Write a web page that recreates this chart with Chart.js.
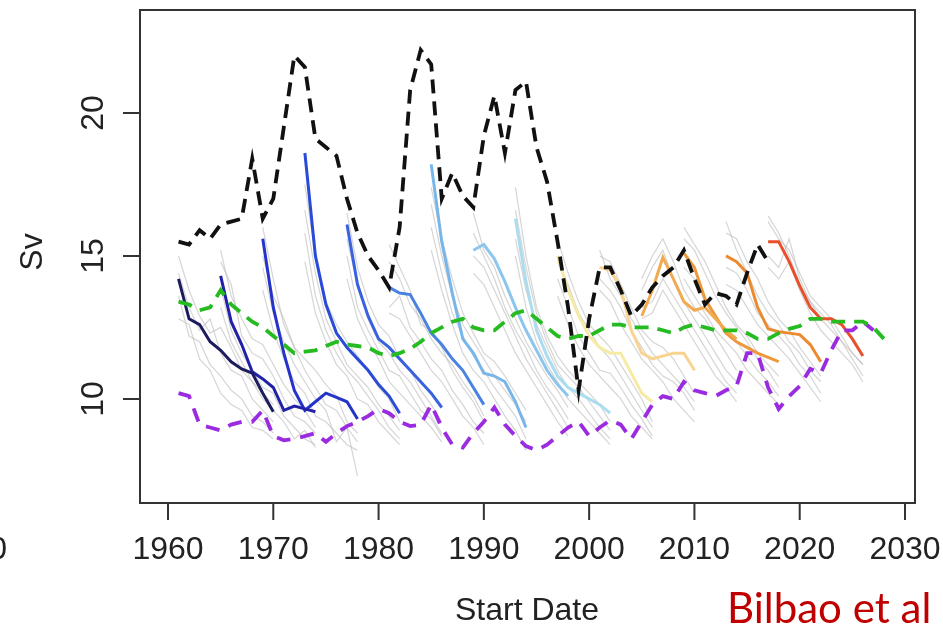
<!DOCTYPE html>
<html>
<head>
<meta charset="utf-8">
<script src="https://cdn.jsdelivr.net/npm/chart.js@4"></script>
<style>html,body{margin:0;padding:0;background:#fff}</style>
</head>
<body>
<canvas id="my-chart" width="943" height="624"></canvas>
<script>
// axis ticks
const xTicks = [1960, 1970, 1980, 1990, 2000, 2010, 2020, 2030]
const yTicks = [10, 15, 20]

// ensemble max (black dashed), yearly from 1961
const maxStart = 1961
const maxSv = [15.5, 15.4, 15.9, 15.6, 16.1, 16.2, 16.3, 18.4, 16.3, 17.0,
  19.5, 22.0, 21.6, 19.1, 18.8, 18.5, 17.0, 15.8, 15.0, 14.5,
  13.9, 16.0, 20.8, 22.2, 21.7, 17.0, 17.9, 17.1, 16.7, 19.2,
  20.6, 18.6, 20.8, 21.1, 18.8, 17.6, 15.5, 13.2, 10.3, 12.8,
  14.6, 14.6, 13.8, 12.9, 13.3, 13.9, 14.3, 14.6, 15.2, 14.2,
  13.3, 13.7, 13.6, 13.3, 14.4, 15.4, 14.8]

// ensemble mean (green dashed), yearly from 1961
const meanStart = 1961
const meanSv = [13.4, 13.3, 13.1, 13.2, 13.8, 13.3, 13.0, 12.7, 12.5, 12.2,
  11.9, 11.6, 11.65, 11.7, 11.85, 12.0, 11.9, 11.85, 11.8, 11.6,
  11.5, 11.6, 11.75, 12.0, 12.3, 12.5, 12.7, 12.8, 12.5, 12.4,
  12.4, 12.7, 13.0, 13.1, 12.8, 12.5, 12.2, 12.1, 12.2, 12.2,
  12.4, 12.6, 12.6, 12.5, 12.5, 12.5, 12.4, 12.3, 12.5, 12.6,
  12.5, 12.4, 12.4, 12.4, 12.3, 12.1, 12.1, 12.3, 12.45, 12.55,
  12.8, 12.8, 12.7, 12.7, 12.7, 12.7, 12.5, 12.1]

// ensemble min (purple dashed), yearly from 1961
const minStart = 1961
const minSv = [10.2, 10.1, 9.1, 9.0, 8.9, 9.1, 9.2, 9.2, 9.6, 8.7,
  8.55, 8.6, 8.7, 8.8, 8.5, 8.8, 9.05, 9.2, 9.4, 9.65,
  9.5, 9.2, 9.05, 9.1, 9.8, 9.0, 8.4, 8.3, 8.8, 9.2,
  9.7, 9.1, 8.7, 8.35, 8.2, 8.4, 8.7, 9.0, 9.2, 8.7,
  9.0, 9.25, 9.1, 8.6, 9.2, 9.8, 10.1, 10.0, 10.6, 10.3,
  10.2, 10.1, 10.3, 10.45, 11.6, 11.6, 10.4, 9.65, 10.1, 10.45,
  11.05, 10.9, 11.7, 12.4, 12.4, 12.7, 12.4]

// forecasts, one per start date, 10 years each
const fcStarts = [1961, 1965, 1969, 1973, 1977, 1981, 1985, 1989, 1993, 1997, 2001, 2005, 2009, 2013, 2017]
const fcColors = ['#1c1c5e', '#2222a8', '#2433c8', '#2a4ad8', '#3a62e0', '#4a82e2', '#78b6ea', '#8cc6ee',
  '#abdcf0', '#f7eaa4', '#f8d490', '#f2aa52', '#ee983c', '#ec8a30', '#e8502c']
const fcSv = [
  [14.2, 12.8, 12.6, 12.0, 11.7, 11.3, 11.05, 10.9, 10.2, 9.55],
  [14.3, 12.7, 11.9, 10.95, 10.7, 10.4, 9.6, 9.75, 9.65, 9.55],
  [15.6, 13.2, 11.6, 10.3, 9.6, 9.9, 10.2, 10.05, 9.9, 9.3],
  [18.6, 15.0, 13.3, 12.3, 11.8, 11.4, 11.0, 10.5, 10.1, 9.5],
  [16.1, 14.0, 12.9, 12.1, 11.8, 11.4, 11.0, 10.6, 10.2, 9.7],
  [13.9, 13.7, 13.65, 13.0, 12.3, 11.9, 11.4, 11.0, 10.4, 9.8],
  [18.2, 15.5, 13.7, 12.1, 11.6, 10.9, 10.8, 10.6, 9.9, 9.0],
  [15.2, 15.4, 14.9, 14.1, 13.2, 12.4, 11.7, 11.0, 10.5, 10.1],
  [16.3, 14.1, 12.4, 11.5, 10.8, 10.4, 10.2, 10.0, 9.8, 9.5],
  [15.0, 13.8, 12.9, 12.2, 11.8, 11.6, 11.6, 10.9, 10.2, 9.9],
  [14.6, 14.5, 13.9, 12.4, 11.6, 11.4, 11.5, 11.6, 11.6, 11.0],
  [12.9, 13.8, 14.95, 14.2, 13.4, 13.1, 13.2, 12.8, 12.4, 12.1],
  [15.1, 14.6, 13.5, 12.9, 12.3, 12.0, 11.8, 11.6, 11.45, 11.3],
  [15.0, 14.8, 14.4, 13.2, 12.45, 12.35, 12.3, 12.25, 11.9, 11.3],
  [15.5, 15.5, 14.8, 13.95, 13.2, 12.8, 12.8, 12.6, 12.1, 11.5]
]

// individual members (grey), start year of each run
const memberStarts = [
  1961, 1961, 1961, 1961, 1965, 1965, 1965, 1965, 1969, 1969, 1969, 1969,
  1973, 1973, 1973, 1973, 1977, 1977, 1977, 1977, 1981, 1981, 1981, 1981,
  1985, 1985, 1985, 1985, 1989, 1989, 1989, 1989, 1993, 1993, 1993, 1993,
  1997, 1997, 1997, 1997, 2001, 2001, 2001, 2001, 2005, 2005, 2005, 2005,
  2009, 2009, 2009, 2009, 2013, 2013, 2013, 2013, 2017, 2017, 2017, 2017]
const memberSv = [
  [15.0, 13.8, 12.9, 12.3, 12.5, 11.8, 11.0, 10.6, 10.2, 9.8],
  [13.6, 12.2, 12.0, 11.2, 10.8, 10.3, 10.0, 9.4, 9.2, 8.8],
  [14.4, 13.2, 12.4, 12.8, 11.6, 11.0, 10.8, 10.0, 9.6, 9.2],
  [12.8, 12.6, 11.4, 11.0, 10.2, 9.8, 9.6, 9.0, 8.9, 8.6],
  [15.2, 13.6, 12.8, 12.1, 11.9, 11.2, 10.5, 10.0, 9.6, 9.0],
  [13.9, 12.4, 11.6, 11.0, 10.4, 10.2, 9.4, 9.0, 8.6, 8.4],
  [14.8, 14.0, 12.2, 11.6, 11.4, 10.8, 10.0, 9.4, 9.2, 8.8],
  [13.2, 12.0, 11.3, 10.6, 10.0, 9.6, 9.2, 8.6, 8.9, 8.3],
  [16.0, 14.2, 12.6, 11.8, 11.4, 11.0, 10.5, 10.1, 9.2, 8.8],
  [14.6, 13.0, 12.0, 11.2, 10.6, 10.0, 9.6, 8.5, 9.0, 7.3],
  [15.0, 13.6, 12.8, 11.8, 11.0, 10.4, 9.8, 9.6, 9.0, 8.5],
  [13.8, 12.4, 11.4, 10.6, 10.2, 9.4, 9.2, 8.8, 8.4, 8.2],
  [17.5, 15.0, 13.4, 12.6, 12.0, 11.5, 11.0, 10.4, 10.0, 9.2],
  [15.8, 13.6, 12.4, 11.6, 11.0, 10.6, 10.1, 9.6, 9.0, 8.6],
  [16.6, 14.4, 12.8, 12.0, 11.2, 10.8, 10.4, 9.8, 9.4, 8.9],
  [14.8, 13.0, 12.0, 11.2, 10.8, 10.0, 9.8, 9.2, 8.8, 8.4],
  [16.5, 14.6, 13.4, 12.6, 12.2, 11.4, 11.0, 10.3, 9.8, 9.2],
  [15.0, 13.2, 12.4, 11.7, 11.0, 10.8, 10.2, 9.6, 9.3, 8.7],
  [15.6, 14.0, 12.8, 12.0, 11.6, 11.0, 10.6, 10.0, 9.4, 8.8],
  [14.2, 12.8, 12.0, 11.4, 10.6, 10.2, 9.8, 9.4, 9.0, 8.5],
  [14.8, 14.2, 13.3, 12.8, 12.1, 11.6, 11.2, 10.6, 10.1, 9.4],
  [13.2, 13.6, 12.5, 12.0, 11.4, 11.0, 10.3, 9.8, 9.2, 8.8],
  [15.4, 14.6, 13.8, 12.6, 12.4, 11.8, 11.0, 10.4, 9.9, 9.2],
  [13.0, 12.8, 12.2, 11.6, 11.0, 10.6, 10.0, 9.4, 9.0, 8.4],
  [17.4, 15.6, 14.2, 13.0, 12.3, 11.6, 11.3, 10.8, 10.2, 9.6],
  [16.0, 14.4, 13.0, 12.2, 11.5, 11.0, 10.4, 9.9, 9.4, 8.6],
  [16.8, 15.0, 13.6, 12.6, 12.0, 11.4, 10.8, 10.3, 9.8, 9.2],
  [15.2, 13.8, 12.6, 11.6, 11.0, 10.6, 10.0, 9.4, 8.9, 8.2],
  [16.5, 15.2, 14.6, 13.6, 12.8, 12.0, 11.4, 10.8, 10.3, 9.7],
  [15.0, 14.6, 13.8, 13.0, 12.2, 11.4, 10.8, 10.2, 9.6, 9.0],
  [15.8, 15.0, 14.2, 13.2, 12.4, 11.8, 11.0, 10.4, 9.9, 9.3],
  [14.4, 14.0, 13.2, 12.4, 11.6, 11.0, 10.4, 9.8, 9.2, 8.7],
  [17.4, 15.0, 13.2, 12.2, 11.5, 11.0, 10.6, 10.2, 9.8, 9.2],
  [15.6, 13.8, 12.6, 11.8, 11.0, 10.4, 10.0, 9.5, 9.0, 8.6],
  [16.6, 14.6, 13.0, 12.0, 11.2, 10.8, 10.4, 9.9, 9.4, 8.9],
  [15.0, 13.2, 12.0, 11.2, 10.6, 10.0, 9.6, 9.2, 8.8, 8.4],
  [15.6, 14.4, 13.4, 12.6, 12.2, 11.8, 11.2, 10.6, 10.0, 9.2],
  [14.2, 13.2, 12.2, 11.6, 11.0, 10.9, 10.4, 9.8, 9.3, 8.7],
  [14.8, 14.0, 13.0, 12.4, 11.8, 11.4, 10.8, 10.2, 9.6, 9.0],
  [13.6, 12.6, 11.8, 11.2, 10.8, 10.4, 10.0, 9.4, 9.0, 8.6],
  [15.0, 14.8, 14.0, 13.2, 12.4, 12.0, 11.8, 11.4, 10.8, 10.2],
  [14.2, 13.8, 13.2, 12.4, 11.8, 11.2, 10.8, 10.6, 10.2, 9.6],
  [15.2, 14.2, 13.6, 12.8, 12.2, 11.6, 11.2, 10.8, 10.4, 9.9],
  [13.8, 13.4, 12.6, 12.0, 11.4, 11.0, 10.6, 10.0, 9.6, 9.2],
  [14.2, 15.0, 15.6, 14.8, 13.8, 13.2, 12.8, 12.2, 11.6, 11.0],
  [13.2, 13.4, 14.2, 13.6, 13.0, 12.4, 11.8, 11.2, 10.6, 10.2],
  [13.8, 14.6, 15.2, 14.2, 13.4, 12.8, 12.2, 11.6, 11.0, 10.6],
  [12.8, 13.0, 13.8, 13.2, 12.6, 12.0, 11.4, 10.8, 10.4, 9.9],
  [15.6, 15.2, 14.4, 13.6, 13.0, 12.5, 12.0, 11.4, 11.0, 10.4],
  [14.6, 14.2, 13.4, 12.8, 12.4, 12.0, 11.5, 11.0, 10.6, 10.1],
  [16.0, 15.4, 14.8, 14.0, 13.2, 12.6, 12.2, 11.6, 11.2, 10.8],
  [14.2, 13.6, 13.0, 12.4, 12.0, 11.6, 11.0, 10.6, 10.2, 9.8],
  [15.8, 15.6, 14.8, 14.2, 13.4, 12.8, 12.4, 11.8, 11.3, 10.8],
  [14.6, 14.4, 13.8, 13.0, 12.6, 12.2, 11.8, 11.2, 10.8, 10.2],
  [16.2, 15.2, 14.4, 13.6, 13.0, 12.6, 12.0, 11.6, 11.0, 10.6],
  [14.0, 13.8, 13.2, 12.6, 12.2, 11.8, 11.4, 10.9, 10.4, 9.9],
  [16.2, 15.6, 15.2, 14.4, 13.6, 13.2, 12.8, 12.2, 11.6, 11.2],
  [15.0, 14.6, 15.6, 14.2, 13.4, 12.8, 12.4, 12.0, 11.6, 11.2],
  [16.4, 15.8, 15.0, 14.0, 13.4, 13.0, 12.6, 12.0, 11.4, 10.8],
  [14.6, 14.2, 14.8, 13.8, 13.0, 12.4, 12.0, 11.6, 11.2, 10.6]
]

function pts(start, vals) {
  return vals.map((v, i) => ({ x: start + i, y: v }))
}

const datasets = []
datasets.push({ data: pts(maxStart, maxSv), borderColor: '#111', borderWidth: 3.8, borderDash: [14, 8] })
datasets.push({ data: pts(meanStart, meanSv), borderColor: '#27bb22', borderWidth: 3.8, borderDash: [14, 9] })
datasets.push({ data: pts(minStart, minSv), borderColor: '#9a2be0', borderWidth: 3.8, borderDash: [14, 10] })
fcStarts.forEach((s, i) => {
  datasets.push({ data: pts(s, fcSv[i]), borderColor: fcColors[i], borderWidth: 3 })
})
memberStarts.forEach((s, i) => {
  datasets.push({ data: pts(s, memberSv[i]), borderColor: 'rgba(185,185,185,0.6)', borderWidth: 1.2 })
})

const frame = {
  id: 'frame',
  afterDraw(c) {
    const ctx = c.ctx, a = c.chartArea, x = c.scales.x, y = c.scales.y
    ctx.save()
    ctx.strokeStyle = '#333'
    ctx.lineWidth = 2
    ctx.strokeRect(a.left, a.top, a.right - a.left, a.bottom - a.top)
    ctx.fillStyle = '#222'
    ctx.font = '32px "Liberation Sans", Arial, sans-serif'
    ctx.textAlign = 'center'
    ctx.textBaseline = 'alphabetic'
    ctx.beginPath()
    xTicks.forEach(t => {
      const px = x.getPixelForValue(t)
      ctx.moveTo(px, a.bottom)
      ctx.lineTo(px, a.bottom + 17)
      ctx.fillText(String(t), px, 559)
    })
    yTicks.forEach(t => {
      const py = y.getPixelForValue(t)
      ctx.moveTo(a.left, py)
      ctx.lineTo(a.left - 17, py)
      ctx.save()
      ctx.translate(103, py)
      ctx.rotate(-Math.PI / 2)
      ctx.fillText(String(t), 0, 0)
      ctx.restore()
    })
    ctx.stroke()
    ctx.fillText('Start Date', 527, 620)
    ctx.save()
    ctx.translate(42, 252)
    ctx.rotate(-Math.PI / 2)
    ctx.fillText('Sv', 0, 0)
    ctx.restore()
    ctx.textAlign = 'right'
    ctx.fillText('0', 7, 559)
    ctx.textAlign = 'left'
    ctx.fillStyle = '#c00000'
    ctx.font = '42px Lato, "Noto Sans", sans-serif'
    ctx.fillText('Bilbao et al', 727, 623)
    ctx.restore()
  }
}

const chart = document.getElementById('my-chart')
var myChart = new Chart(chart, {
  type: 'line',
  data: { datasets: datasets },
  options: {
    responsive: false,
    animation: false,
    layout: { padding: { left: 140, right: 28, top: 10, bottom: 121 } },
    elements: {
      point: { radius: 0 },
      line: { tension: 0, fill: false, borderCapStyle: 'butt' }
    },
    scales: {
      x: { type: 'linear', min: 1957.34, max: 2030.95, display: false },
      y: { type: 'linear', min: 6.36, max: 23.6, display: false }
    },
    plugins: {
      legend: { display: false },
      tooltip: { enabled: false }
    }
  },
  plugins: [frame]
})
</script>
</body>
</html>
